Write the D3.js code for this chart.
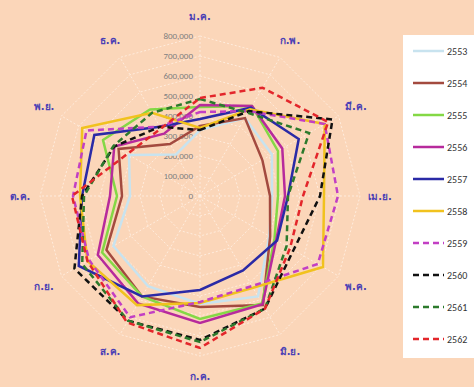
<!DOCTYPE html>
<html>
<head>
<meta charset="utf-8">
<script src="https://cdn.jsdelivr.net/npm/d3@7"></script>
<style>
  html, body { margin: 0; padding: 0; background: #fbd6b9; }
  svg { display: block; }
</style>
</head>
<body>
<svg id="chart" width="474" height="387"></svg>
<script>
// Month categories (Thai abbreviations)
const months = ["ม.ค.", "ก.พ.", "มี.ค.", "เม.ย.", "พ.ค.", "มิ.ย.", "ก.ค.", "ส.ค.", "ก.ย.", "ต.ค.", "พ.ย.", "ธ.ค."];

// Radial tick values
const ticks = [0, 100000, 200000, 300000, 400000, 500000, 600000, 700000, 800000];

// Monthly values per year
const y2553 = [330000, 450000, 415000, 360000, 400000, 580000, 540000, 520000, 500000, 350000, 410000, 240000];
const y2554 = [350000, 450000, 360000, 350000, 405000, 630000, 555000, 580000, 540000, 390000, 470000, 300000];
const y2555 = [445000, 520000, 450000, 390000, 430000, 620000, 615000, 580000, 565000, 415000, 560000, 500000];
const y2556 = [455000, 520000, 475000, 425000, 440000, 625000, 635000, 620000, 590000, 450000, 495000, 360000];
const y2557 = [385000, 510000, 570000, 440000, 445000, 430000, 470000, 580000, 700000, 590000, 610000, 400000];
const y2558 = [340000, 500000, 720000, 620000, 710000, 530000, 535000, 630000, 650000, 600000, 680000, 480000];
const y2559 = [420000, 490000, 720000, 690000, 680000, 520000, 530000, 700000, 640000, 635000, 655000, 400000];
const y2560 = [330000, 490000, 765000, 600000, 540000, 650000, 720000, 720000, 725000, 590000, 495000, 400000];
const y2561 = [485000, 480000, 630000, 440000, 500000, 650000, 730000, 720000, 680000, 580000, 500000, 480000];
const y2562 = [490000, 625000, 740000, 515000, 520000, 650000, 760000, 730000, 650000, 640000, 420000, 390000];

const years = ["2553", "2554", "2555", "2556", "2557", "2558", "2559", "2560", "2561", "2562"];
const colors = ["#c8e3ef", "#a34a3f", "#84d845", "#b72a9c", "#2a2aa6", "#f1c21e", "#c23fc4", "#111111", "#2c7a2c", "#e3262b"];
const dashed = [false, false, false, false, false, false, true, true, true, true];

const seriesValues = [y2553, y2554, y2555, y2556, y2557, y2558, y2559, y2560, y2561, y2562];
const series = years.map((year, i) => ({ year, values: seriesValues[i], color: colors[i], dashed: dashed[i] }));

const svg = d3.select("#chart");
const cx = 200, cy = 196;

const r = d3.scaleLinear().domain([0, 800000]).range([0, 160]);
const angle = d3.scaleLinear().domain([0, months.length]).range([0, 2 * Math.PI]);

const g = svg.append("g").attr("transform", `translate(${cx},${cy})`);

// Concentric polygon gridlines
const gridLine = d3.lineRadial()
  .angle((d, i) => angle(i))
  .radius(d => r(d))
  .curve(d3.curveLinearClosed);

ticks.slice(1).forEach(t => {
  g.append("path")
    .attr("d", gridLine(months.map(() => t)))
    .attr("fill", "none")
    .attr("stroke", "#fff1e6")
    .attr("stroke-width", 0.8)
    .attr("stroke-dasharray", "2,2");
});

// Spokes
months.forEach((m, i) => {
  const a = angle(i);
  g.append("line")
    .attr("x1", 0).attr("y1", 0)
    .attr("x2", Math.sin(a) * r(800000))
    .attr("y2", -Math.cos(a) * r(800000))
    .attr("stroke", "#fff1e6")
    .attr("stroke-width", 0.8)
    .attr("stroke-dasharray", "2,2");
});

// Tick labels along the top spoke
g.selectAll("text.tick")
  .data(ticks)
  .join("text")
  .attr("class", "tick")
  .attr("x", -7)
  .attr("y", d => -r(d))
  .attr("dy", "0.35em")
  .attr("text-anchor", "end")
  .attr("font-family", "Calibri, Carlito, 'Liberation Sans', Arial, sans-serif")
  .attr("font-size", 9)
  .attr("fill", "#7f7f7f")
  .text(d => d3.format(",")(d));

// Series lines
const line = d3.lineRadial()
  .angle((d, i) => angle(i))
  .radius(d => r(d))
  .curve(d3.curveLinearClosed);

g.selectAll("path.series")
  .data(series)
  .join("path")
  .attr("class", "series")
  .attr("d", d => line(d.values))
  .attr("fill", "none")
  .attr("stroke", d => d.color)
  .attr("stroke-width", 2.5)
  .attr("stroke-linejoin", "miter")
  .attr("stroke-dasharray", d => d.dashed ? "6,4" : null);

// Month labels around the outside
g.selectAll("text.month")
  .data(months)
  .join("text")
  .attr("class", "month")
  .attr("x", (d, i) => Math.sin(angle(i)) * 180)
  .attr("y", (d, i) => -Math.cos(angle(i)) * 180)
  .attr("dy", "0.35em")
  .attr("text-anchor", "middle")
  .attr("font-family", "Tahoma, 'DejaVu Sans', sans-serif")
  .attr("font-weight", "bold")
  .attr("font-size", 10)
  .attr("fill", "#4b3fb5")
  .text(d => d);

// Legend
const legend = svg.append("g");
legend.append("rect")
  .attr("x", 403).attr("y", 35)
  .attr("width", 80).attr("height", 323)
  .attr("fill", "#ffffff");

const ly = d3.scaleLinear().domain([0, years.length - 1]).range([51, 339]);
const items = legend.selectAll("g.item")
  .data(series)
  .join("g")
  .attr("class", "item")
  .attr("transform", (d, i) => `translate(0,${ly(i)})`);

items.append("line")
  .attr("x1", 413).attr("x2", 444)
  .attr("y1", 0).attr("y2", 0)
  .attr("stroke", d => d.color)
  .attr("stroke-width", 2.5)
  .attr("stroke-dasharray", d => d.dashed ? "6,4" : null);

items.append("text")
  .attr("x", 447)
  .attr("y", 0)
  .attr("dy", "0.35em")
  .attr("font-family", "Calibri, Carlito, 'Liberation Sans', Arial, sans-serif")
  .attr("font-size", 10)
  .attr("fill", "#333333")
  .text(d => d.year);
</script>
</body>
</html>
